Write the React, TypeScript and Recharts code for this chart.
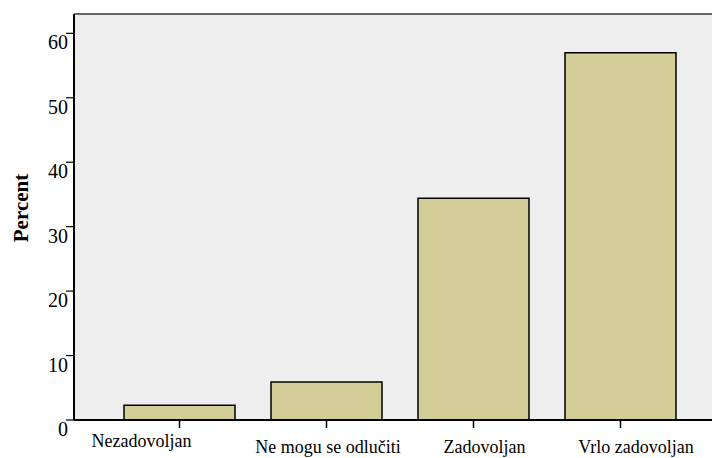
import React from 'react';
import { BarChart, Bar, XAxis, YAxis, CartesianGrid, ReferenceLine } from 'recharts';

const categories = ['Nezadovoljan', 'Ne mogu se odlučiti', 'Zadovoljan', 'Vrlo zadovoljan'];
const percents = [2.3, 5.9, 34.4, 57.0];
const yTicks = [0, 10, 20, 30, 40, 50, 60];
const yMax = 63;

// label placement tweaks (layout only)
const labelDx = [-38, 1.5, 11, 15.5];
const labelDy = [19, 25, 25, 25];

const data = categories.map((c, i) => ({ category: c, percent: percents[i] }));

const FONT = 'Liberation Serif, serif';

const YTick = (props: any) => {
  const { x, y, payload } = props;
  return (
    <text x={x + 2} y={y + 16} textAnchor="end" style={{ fontFamily: FONT, fontSize: 20 }} fill="#000">
      {payload.value}
    </text>
  );
};

const XTick = (props: any) => {
  const { x, y, payload, index } = props;
  return (
    <text
      x={x + (labelDx[index] ?? 0)}
      y={y + (labelDy[index] ?? 25)}
      textAnchor="middle"
      style={{ fontFamily: FONT, fontSize: 18 }}
      fill="#000"
    >
      {payload.value}
    </text>
  );
};

const YLabel = () => (
  <text
    x={20}
    y={200}
    transform="rotate(-90, 20, 200)"
    textAnchor="middle"
    style={{ fontFamily: FONT, fontSize: 21, fontWeight: 'bold' }}
    fill="#000"
  >
    Percent
  </text>
);

export default function App() {
  return (
    <div style={{ fontFamily: FONT }}>
      <BarChart
        width={712}
        height={450}
        data={data}
        margin={{ top: 6, right: 0, bottom: 0, left: 0 }}
        barSize={111}
        style={{ fontFamily: FONT }}
      >
        <CartesianGrid fill="#EEEEEE" horizontal={false} vertical={false} stroke="none" />
        <ReferenceLine y={yMax} stroke="#3a3a3a" strokeWidth={1.5} />
        <XAxis
          dataKey="category"
          height={38}
          padding={{ left: 32, right: 26 }}
          axisLine={{ stroke: '#000', strokeWidth: 2 }}
          tickLine={{ stroke: '#000', strokeWidth: 1.5 }}
          tickSize={8}
          tickMargin={0}
          tick={<XTick />}
          interval={0}
        />
        <YAxis
          width={66}
          domain={[0, yMax]}
          ticks={yTicks}
          axisLine={{ stroke: '#000', strokeWidth: 2 }}
          tickLine={{ stroke: '#000', strokeWidth: 1.2 }}
          tickSize={8}
          tickMargin={0}
          tick={<YTick />}
          label={{ content: <YLabel /> }}
        />
        <Bar
          dataKey="percent"
          fill="#D3CE98"
          stroke="#000"
          strokeWidth={1.5}
          isAnimationActive={false}
        />
      </BarChart>
    </div>
  );
}
